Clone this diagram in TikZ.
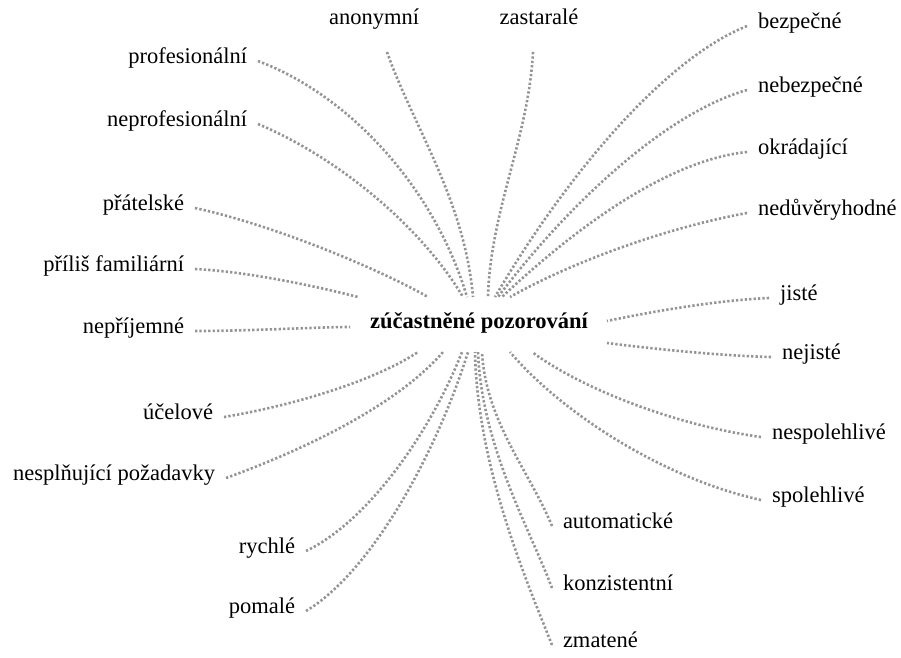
\documentclass[tikz,border=0pt]{standalone}
\usepackage{fontspec}
\setmainfont{Liberation Serif}
\usetikzlibrary{calc}

\tikzset{
  term/.style={font=\fontsize{22.5}{26}\selectfont, inner xsep=11pt, inner ysep=2pt, outer sep=0pt},
  lterm/.style={term, anchor=mid east},
  rterm/.style={term, anchor=mid west},
  tterm/.style={term, anchor=mid},
  hub/.style={font=\fontsize{22.5}{26}\selectfont\bfseries, inner sep=0pt, anchor=mid},
  % dotted grey spoke; #1,#2 pull the first control point, #3,#4 the second
  spoke/.style n args={4}{
    draw={rgb,255:red,148;green,148;blue,148},
    line width=2.6pt, dash pattern=on 2.3pt off 2.1pt,
    to path={let \p1=(\tikztostart), \p2=(\tikztotarget) in
      .. controls +({#1*(\x2-\x1)},{#2*(\y2-\y1)})
              and +({-#3*(\x2-\x1)},{-#4*(\y2-\y1)}) .. (\tikztotarget)}
  },
}

\begin{document}
\begin{tikzpicture}[x=1pt,y=-1pt]
\useasboundingbox (0,0) rectangle (901,657);

% central topic
\node[hub] (zp) at (479,326) {zúčastněné pozorování};

% spoke ends around the central topic
\coordinate (e-prof)    at (467,297);
\coordinate (e-neprof)  at (463,297);
\coordinate (e-pratel)  at (428,297);
\coordinate (e-prilis)  at (358,297);
\coordinate (e-neprij)  at (350,327);
\coordinate (e-ucel)    at (418,352);
\coordinate (e-nespl)   at (443,352);
\coordinate (e-rychle)  at (462,352);
\coordinate (e-pomale)  at (468,352);
\coordinate (e-anon)    at (473,297);
\coordinate (e-zastar)  at (488,297);
\coordinate (e-bezp)    at (495,297);
\coordinate (e-nebezp)  at (498,297);
\coordinate (e-okrad)   at (502,297);
\coordinate (e-nedu)    at (510,297);
\coordinate (e-jiste)   at (607,321);
\coordinate (e-nejiste) at (607,343);
\coordinate (e-nespol)  at (532,352);
\coordinate (e-spol)    at (510,352);
\coordinate (e-auto)    at (482,352);
\coordinate (e-konz)    at (478,352);
\coordinate (e-zmat)    at (475,352);

% left terms
\node[lterm] (prof)   at (258,61)  {profesionální};
\node[lterm] (neprof) at (258,124) {neprofesionální};
\node[lterm] (pratel) at (195,208) {přátelské};
\node[lterm] (prilis) at (195,269) {příliš familiární};
\node[lterm] (neprij) at (195,331) {nepříjemné};
\node[lterm] (ucel)   at (224,417) {účelové};
\node[lterm] (nespl)  at (226,478) {nesplňující požadavky};
\node[lterm] (rychle) at (306,551) {rychlé};
\node[lterm] (pomale) at (306,611) {pomalé};

% top terms
\node[tterm] (anon)   at (374,22) {anonymní};
\node[tterm] (zastar) at (539,22) {zastaralé};

% right terms
\node[rterm] (bezp)    at (747,26)  {bezpečné};
\node[rterm] (nebezp)  at (747,90)  {nebezpečné};
\node[rterm] (okrad)   at (747,152) {okrádající};
\node[rterm] (nedu)    at (747,213) {nedůvěryhodné};
\node[rterm] (jiste)   at (769,298) {jisté};
\node[rterm] (nejiste) at (771,357) {nejisté};
\node[rterm] (nespol)  at (761,437) {nespolehlivé};
\node[rterm] (spol)    at (761,500) {spolehlivé};
\node[rterm] (auto)    at (552,526) {automatické};
\node[rterm] (konz)    at (552,588) {konzistentní};
\node[rterm] (zmat)    at (552,645) {zmatené};

% spokes
\path (prof.mid east)   edge[spoke={.45}{.15}{.15}{.45}] (e-prof)
      (neprof.mid east) edge[spoke={.4}{.2}{.2}{.4}]     (e-neprof)
      (pratel.mid east) edge[spoke={.35}{.2}{.2}{.3}]    (e-pratel)
      (prilis.mid east) edge[spoke={.35}{.1}{.2}{.3}]    (e-prilis)
      (neprij.mid east) edge[spoke={.35}{0}{.2}{0}]      (e-neprij)
      (ucel.mid east)   edge[spoke={.4}{.2}{.2}{.4}]     (e-ucel)
      (nespl.mid east)  edge[spoke={.4}{.25}{.2}{.4}]    (e-nespl)
      (rychle.mid east) edge[spoke={.4}{.15}{.2}{.4}]    (e-rychle)
      (pomale.mid east) edge[spoke={.4}{.15}{.2}{.4}]    (e-pomale);

\path ([xshift=13pt,yshift=-30pt]anon.mid)  edge[spoke={.3}{.3}{.1}{.4}]   (e-anon)
      ([xshift=-6pt,yshift=-30pt]zastar.mid) edge[spoke={.1}{.35}{.05}{.35}] (e-zastar);

\path (bezp.mid west)    edge[spoke={.35}{.13}{.25}{.4}] (e-bezp)
      (nebezp.mid west)  edge[spoke={.35}{.12}{.25}{.4}] (e-nebezp)
      (okrad.mid west)   edge[spoke={.35}{.06}{.25}{.4}] (e-okrad)
      (nedu.mid west)    edge[spoke={.35}{.18}{.25}{.4}] (e-nedu)
      (jiste.mid west)   edge[spoke={.35}{.1}{.2}{.3}]   (e-jiste)
      (nejiste.mid west) edge[spoke={.35}{.1}{.2}{.3}]   (e-nejiste)
      (nespol.mid west)  edge[spoke={.4}{.15}{.2}{.4}]   (e-nespol)
      (spol.mid west)    edge[spoke={.4}{.15}{.2}{.4}]   (e-spol)
      (auto.mid west)    edge[spoke={.3}{.3}{.05}{.4}]   (e-auto)
      (konz.mid west)    edge[spoke={.3}{.25}{.05}{.4}]  (e-konz)
      (zmat.mid west)    edge[spoke={.3}{.2}{.03}{.4}]   (e-zmat);
\end{tikzpicture}
\end{document}
